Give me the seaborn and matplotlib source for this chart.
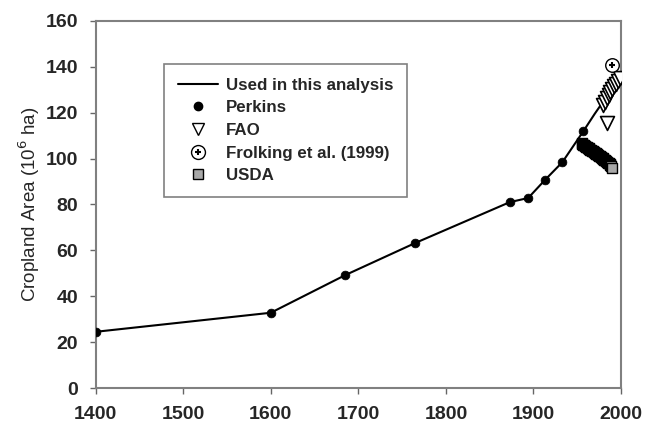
import pandas as pd
import seaborn as sns
import matplotlib.pyplot as plt
from matplotlib.lines import Line2D
from matplotlib.legend_handler import HandlerTuple

# Values
line_years = [1400, 1600, 1685, 1765, 1873, 1894, 1913, 1933, 1957, 1970, 1980, 1990, 2000]
line_area = [24.5, 32.8, 49.2, 63.2, 81.0, 82.8, 90.6, 98.4, 111.9, 119.5, 125.0, 131.0, 136.5]

perkins_years = [1400, 1600, 1685, 1765, 1873, 1894, 1913, 1933, 1957]
perkins_area = [24.5, 32.8, 49.2, 63.2, 81.0, 82.8, 90.6, 98.4, 111.9]

fao_years = [1984, 1980, 1982, 1984, 1986, 1988, 1990, 1992, 1994, 1996, 1999]
fao_area = [115.5, 123.5, 124.8, 126.2, 127.6, 128.9, 130.2, 131.4, 132.6, 133.7, 135.3]

frolking_years = [1990]
frolking_area = [140.7]

usda_years = [1955, 1956, 1957, 1958, 1959, 1960, 1961, 1962, 1963, 1964, 1965, 1966,
              1967, 1968, 1969, 1970, 1971, 1972, 1973, 1974, 1975, 1976, 1977, 1978,
              1979, 1980, 1981, 1982, 1983, 1984, 1985, 1986, 1987, 1988, 1989, 1990]
usda_area = [106.6, 106.3, 106.0, 105.7, 105.4, 105.2, 104.9, 104.6, 104.4, 104.1, 103.8, 103.6,
             103.3, 103.1, 102.8, 102.5, 102.3, 102.1, 101.8, 101.6, 101.3, 101.0, 100.7, 100.4,
             100.1, 99.8, 99.5, 99.2, 98.9, 98.6, 98.2, 97.9, 97.5, 97.0, 96.6, 96.0]

sns.set_style("white")
plt.rcParams['font.family'] = ['Liberation Sans', 'DejaVu Sans']

fig = plt.figure(figsize=(6.53, 4.25), dpi=100)
ax = fig.add_axes([0.1466, 0.087, 0.8044, 0.864])

sns.lineplot(x=line_years, y=line_area, ax=ax, color='black', linewidth=1.5, zorder=2)
sns.scatterplot(x=usda_years, y=usda_area, ax=ax, marker='s', s=55, color='#a8a8a8',
                edgecolor='black', linewidth=1.0, zorder=3)
sns.scatterplot(x=perkins_years, y=perkins_area, ax=ax, marker='o', s=40, color='black',
                edgecolor='black', zorder=4)
sns.scatterplot(x=fao_years, y=fao_area, ax=ax, marker='v', s=100, color='white',
                edgecolor='black', linewidth=1.2, zorder=5)
sns.scatterplot(x=frolking_years, y=frolking_area, ax=ax, marker='o', s=95, color='white',
                edgecolor='black', linewidth=1.0, zorder=6)
sns.scatterplot(x=frolking_years, y=frolking_area, ax=ax, marker='+', s=25, color='black',
                linewidth=1.5, zorder=7)

ax.set_xlim(1400, 2000)
ax.set_ylim(0, 160)
ax.set_xticks(range(1400, 2001, 100))
ax.set_yticks(range(0, 161, 20))
ax.tick_params(axis='both', direction='out', length=4.5, width=1, color='#666666',
               labelsize=14, bottom=True, left=True)
ax.tick_params(axis='x', pad=8.5)
ax.tick_params(axis='y', pad=8)
for lab in ax.get_xticklabels() + ax.get_yticklabels():
    lab.set_fontweight('bold')
ax.set_ylabel('Cropland Area (10$^6$ ha)', fontsize=13.5, labelpad=3)
for sp in ax.spines.values():
    sp.set_visible(True)
    sp.set_color('#808080')
    sp.set_linewidth(1.5)

# legend
h_line = Line2D([], [], color='black', linewidth=1.5)
h_perk = Line2D([], [], linestyle='none', marker='o', markersize=6, color='black')
h_fao = Line2D([], [], linestyle='none', marker='v', markersize=9,
               markerfacecolor='white', markeredgecolor='black')
h_fro1 = Line2D([], [], linestyle='none', marker='o', markersize=10,
                markerfacecolor='white', markeredgecolor='black')
h_fro2 = Line2D([], [], linestyle='none', marker='+', markersize=5,
                markeredgecolor='black', markeredgewidth=1.5)
h_usda = Line2D([], [], linestyle='none', marker='s', markersize=7.5,
                markerfacecolor='#a8a8a8', markeredgecolor='black')
leg = ax.legend([h_line, h_perk, h_fao, (h_fro1, h_fro2), h_usda],
                ['Used in this analysis', 'Perkins', 'FAO', 'Frolking et al. (1999)', 'USDA'],
                handler_map={tuple: HandlerTuple(ndivide=1)},
                loc='upper left', bbox_to_anchor=(0.130, 0.882), borderaxespad=0,
                prop={'weight': 'bold', 'size': 12.2}, handlelength=2.4,
                handletextpad=0.46, labelspacing=0.45, fancybox=False, framealpha=1,
                borderpad=0.8)
leg.get_frame().set_edgecolor('#808080')
leg.get_frame().set_linewidth(1.2)

fig.savefig('out.png', dpi=100)
